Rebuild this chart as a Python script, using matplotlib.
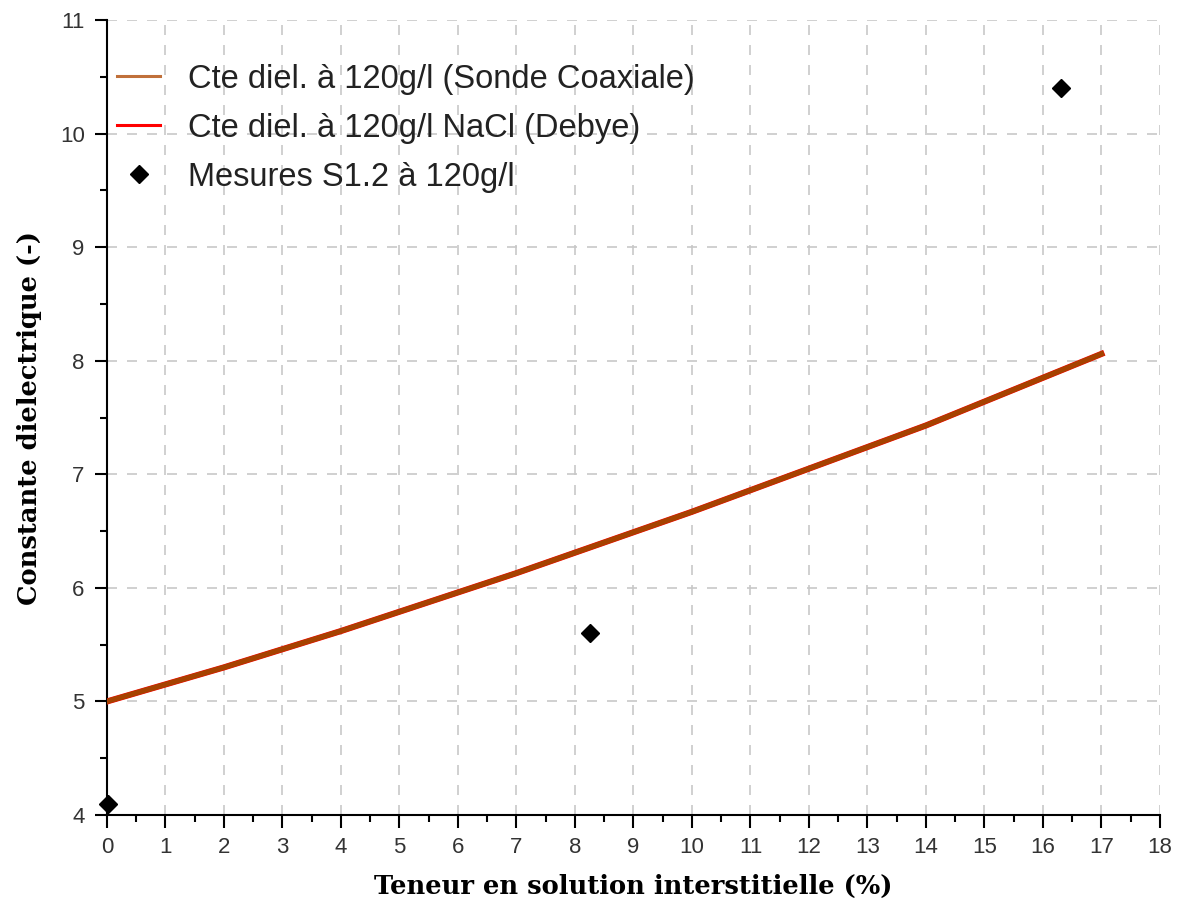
import matplotlib
matplotlib.use("Agg")
import matplotlib.pyplot as plt
from matplotlib.ticker import MultipleLocator

# Data
teneur = [0, 1, 2, 3, 4, 5, 6, 7, 8, 9, 10, 11, 12, 13, 14, 15, 16, 17]
cte_coax = [5.00, 5.15, 5.30, 5.46, 5.62, 5.79, 5.96, 6.13, 6.31, 6.49,
            6.67, 6.86, 7.05, 7.24, 7.43, 7.64, 7.85, 8.06]
cte_debye = [5.00, 5.15, 5.30, 5.46, 5.62, 5.79, 5.96, 6.13, 6.31, 6.49,
             6.67, 6.86, 7.05, 7.24, 7.43, 7.64, 7.85, 8.06]
mes_x = [0.02, 8.25, 16.3]
mes_y = [4.10, 5.60, 10.40]

lbl_coax = "Cte diel. à 120g/l (Sonde Coaxiale)"
lbl_debye = "Cte diel. à 120g/l NaCl (Debye)"
lbl_mes = "Mesures S1.2 à 120g/l"
xlabel = "Teneur en solution interstitielle (%)"
ylabel = "Constante dielectrique (-)"

fig = plt.figure(figsize=(11.78, 9.17), dpi=100)
ax = fig.add_axes([0.0908, 0.1112, 0.8939, 0.8670])

ax.plot(teneur, cte_debye, color="#ff0000", lw=4.4, label=lbl_debye, zorder=3)
ax.plot(teneur, cte_coax, color="#a64200", lw=3.8, label=lbl_coax, zorder=4)
ax.plot(mes_x, mes_y, linestyle="none", marker="D", color="black",
        markersize=9, label=lbl_mes, zorder=5, clip_on=False)

ax.set_xlim(0, 18)
ax.set_ylim(4, 11)
ax.xaxis.set_major_locator(MultipleLocator(1))
ax.xaxis.set_minor_locator(MultipleLocator(0.5))
ax.yaxis.set_major_locator(MultipleLocator(1))
ax.yaxis.set_minor_locator(MultipleLocator(0.5))

ax.grid(True, which="major", color="#c8c8c8", linestyle=(0, (6, 6)), lw=1.2)
ax.set_axisbelow(True)
for s in ["top", "right"]:
    ax.spines[s].set_visible(False)
for s in ["left", "bottom"]:
    ax.spines[s].set_linewidth(1.5)

ax.tick_params(which="major", direction="out", length=9, width=1.5,
               labelsize=16, pad=7)
ax.tick_params(which="minor", direction="out", length=5, width=1.5)
for t in ax.get_xticklabels() + ax.get_yticklabels():
    t.set_family("Liberation Sans")
    t.set_color("#333333")

ax.set_xlabel(xlabel, fontfamily="DejaVu Serif", fontweight="bold",
              fontsize=18.5, labelpad=11)
ax.set_ylabel(ylabel, fontfamily="DejaVu Serif", fontweight="bold",
              fontsize=18.5, labelpad=13)

h, l = ax.get_legend_handles_labels()
order = [1, 0, 2]
leg = ax.legend([h[i] for i in order], [l[i] for i in order], loc="upper left",
                frameon=False, prop={"family": "Liberation Sans", "size": 23.5},
                handlelength=1.32, handletextpad=0.86, labelspacing=0.55,
                borderpad=0, borderaxespad=0, bbox_to_anchor=(0.0095, 0.945))
for t in leg.get_texts():
    t.set_color("#222222")
leg.get_lines()[0].set_color("#c0703a")
leg.get_lines()[0].set_linewidth(2.2)
leg.get_lines()[1].set_linewidth(2.2)

fig.savefig("out.png", dpi=100)
